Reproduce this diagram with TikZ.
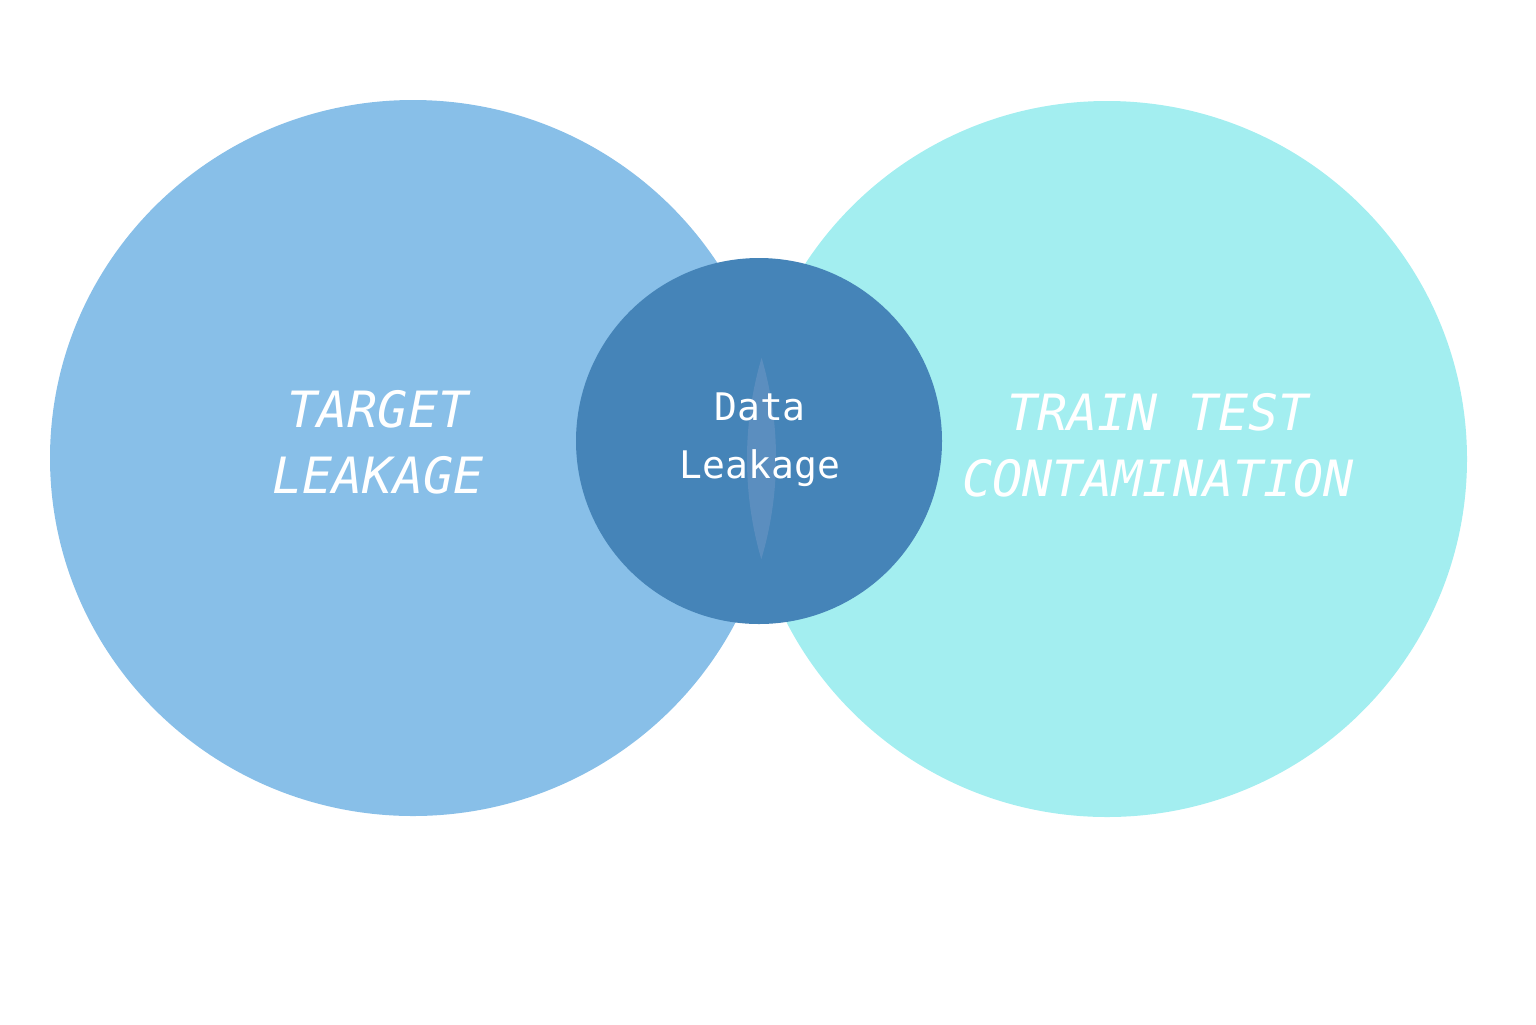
\documentclass[tikz,border=0pt]{standalone}
\usepackage{fontspec}
\setmonofont{DejaVu Sans Mono}
\begin{document}
\begin{tikzpicture}[x=0.5pt,y=-0.5pt,
  lbl/.style={text=white,align=center,font=\ttfamily\itshape\fontsize{25}{33}\selectfont},
  mid/.style={text=white,align=center,font=\ttfamily\fontsize{19}{29}\selectfont}]
\useasboundingbox (0,0) rectangle (1536,1024);
\definecolor{lc}{HTML}{88BFE8}
\definecolor{rc}{HTML}{A3EEF0}
\definecolor{sc}{HTML}{4584B8}
\definecolor{ov}{HTML}{5B8EBF}
\fill[lc] (413,458) ellipse [x radius=363, y radius=358];
\fill[rc] (1107,459) ellipse [x radius=360, y radius=358];
\fill[sc] (759,441) circle [radius=183];
\begin{scope}
 \clip (413,458) ellipse [x radius=363, y radius=358];
 \clip (759,441) circle [radius=183];
 \fill[ov] (1107,459) ellipse [x radius=360, y radius=358];
\end{scope}
\node[lbl] (t) at (378,442) {TARGET\\LEAKAGE};
\node[lbl] (c) at (1158,445) {TRAIN TEST\\CONTAMINATION};
\node[mid] (d) at (760,440) {Data\\Leakage};
\end{tikzpicture}
\end{document}
